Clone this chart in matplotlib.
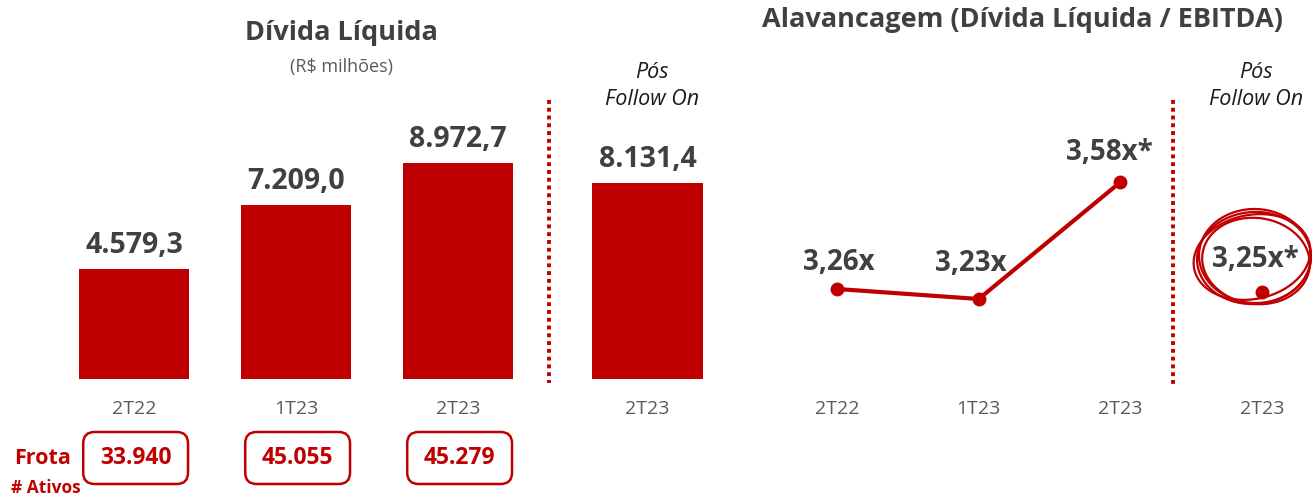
import matplotlib
matplotlib.use("Agg")
import matplotlib.pyplot as plt
from matplotlib.patches import FancyBboxPatch, Ellipse
from matplotlib.lines import Line2D
from matplotlib.transforms import IdentityTransform

plt.rcParams['font.family'] = ['Open Sans', 'DejaVu Sans']

# ---------------- data ----------------
debt_categories = ["2T22", "1T23", "2T23", "2T23"]
debt_values = [4579.3, 7209.0, 8972.7, 8131.4]
debt_labels = ["4.579,3", "7.209,0", "8.972,7", "8.131,4"]

lev_categories = ["2T22", "1T23", "2T23", "2T23"]
lev_values = [3.26, 3.23, 3.58, 3.25]
lev_labels = ["3,26x", "3,23x", "3,58x*", "3,25x*"]

fleet_values = ["33.940", "45.055", "45.279"]

title_left = "Dívida Líquida"
subtitle_left = "(R$ milhões)"
title_right = "Alavancagem (Dívida Líquida / EBITDA)"
post_label = "Pós\nFollow On"

RED = "#C00000"
DARK = "#404040"
GRAY = "#595959"

W, H = 1312, 496
fig = plt.figure(figsize=(W / 100, H / 100), dpi=100)

def rect(l, t, r, b):
    # pixel box (top-based) -> figure fraction
    return [l / W, 1 - b / H, (r - l) / W, (b - t) / H]

# ---------------- left: bars ----------------
spacing = 162.0
ax1 = fig.add_axes(rect(53, 40, 728, 379))
x_bars = [0, 1, 2, 3.17]
ax1.bar(x_bars, debt_values, width=0.68, color=RED)
ax1.set_xlim((53 - 134) / spacing, (728 - 134) / spacing)
ax1.set_ylim(0, 339 * 41.5)
for x, v, lab in zip(x_bars, debt_values, debt_labels):
    ax1.annotate(lab, (x, v), xytext=(0, 11.5), textcoords="offset points",
                 ha="center", va="baseline", fontsize=20.5, fontweight="bold", color=DARK)
ax1.set_xticks(x_bars)
ax1.set_xticklabels(debt_categories, fontsize=14, color=GRAY)
ax1.tick_params(axis="x", length=0, pad=15)
ax1.set_yticks([])
for s in ax1.spines.values():
    s.set_visible(False)
ax1.patch.set_visible(False)

# fleet row
ax3 = fig.add_axes(rect(53, 420, 728, 496))
ax3.set_xlim(ax1.get_xlim())
ax3.set_ylim(0, 76 / spacing)
ax3.axis("off")
for x, lab in zip(x_bars[:3], fleet_values):
    bw, bh = 0.667, 52 / spacing
    box = FancyBboxPatch((x - bw / 2 + 0.02, 12 / spacing), bw - 0.02, bh,
                         boxstyle="round,pad=0,rounding_size=0.07",
                         fc="white", ec=RED, lw=1.8)
    ax3.add_patch(box)
    ax3.text(x + 0.01, 12 / spacing + bh / 2, lab, ha="center", va="center",
             fontsize=16.5, fontweight="bold", color=RED)

fig.text(43 / W, 1 - 459 / H, "Frota", ha="center", va="center",
         fontsize=15.5, fontweight="bold", color=RED)
fig.text(46 / W, 1 - 488 / H, "# Ativos", ha="center", va="center",
         fontsize=12.5, fontweight="bold", color=RED)

# titles
fig.text(341 / W, 1 - 33 / H, title_left, ha="center", va="center",
         fontsize=19.5, fontweight="bold", color=DARK)
fig.text(341 / W, 1 - 67 / H, subtitle_left, ha="center", va="center",
         fontsize=13, color=GRAY)
fig.text(1022 / W, 1 - 20 / H, title_right, ha="center", va="center",
         fontsize=19.5, fontweight="bold", color=DARK)

for cx in (652, 1256):
    fig.text(cx / W, 1 - 86 / H, post_label, ha="center", va="center",
             fontsize=15.5, style="italic", color="#1a1a1a", linespacing=1.35)

# dotted separators
for xpx, y0, y1 in ((549, 100, 383), (1173, 100, 385)):
    fig.add_artist(Line2D([xpx / W, xpx / W], [1 - y0 / H, 1 - y1 / H],
                          transform=fig.transFigure, color=RED, lw=2.8,
                          linestyle=(0, (1, 1))))

# ---------------- right: line ----------------
lsp = 141.7
ax2 = fig.add_axes(rect(760, 40, 1312, 379))
x_line = [0, 1, 2, 3]
ax2.plot(x_line[:3], lev_values[:3], color=RED, lw=3, marker="o", ms=9,
         solid_capstyle="round")
ax2.plot(x_line[3:], lev_values[3:], color=RED, lw=0, marker="o", ms=9)
ax2.set_xlim((760 - 837) / lsp, (1312 - 837) / lsp)
ax2.set_ylim(3.23 - (379 - 299) / 334.0, 3.23 + (299 - 40) / 334.0)
offsets = [(1, 14), (-6, 20), (-8, 16), (-5, 18)]
for x, v, lab, off in zip(x_line, lev_values, lev_labels, offsets):
    ax2.annotate(lab, (x, v), xytext=off, textcoords="offset points",
                 ha="center", va="baseline", fontsize=20, fontweight="bold", color=DARK)
ax2.set_xticks(x_line)
ax2.set_xticklabels(lev_categories, fontsize=14, color=GRAY)
ax2.tick_params(axis="x", length=0, pad=15)
ax2.set_yticks([])
for s in ax2.spines.values():
    s.set_visible(False)
ax2.patch.set_visible(False)

# hand-drawn circle around last value
for (dx, dy, w, h, ang) in ((0, 0, 114, 92, 4), (2, -3, 108, 86, -8),
                            (-2, 1, 118, 84, 12), (1, 2, 112, 94, -2)):
    fig.add_artist(Ellipse((1254 + dx, H - 258 + dy), w, h, angle=ang,
                           transform=IdentityTransform(), fill=False,
                           ec=RED, lw=1.6))

fig.savefig("out.png", dpi=100)
